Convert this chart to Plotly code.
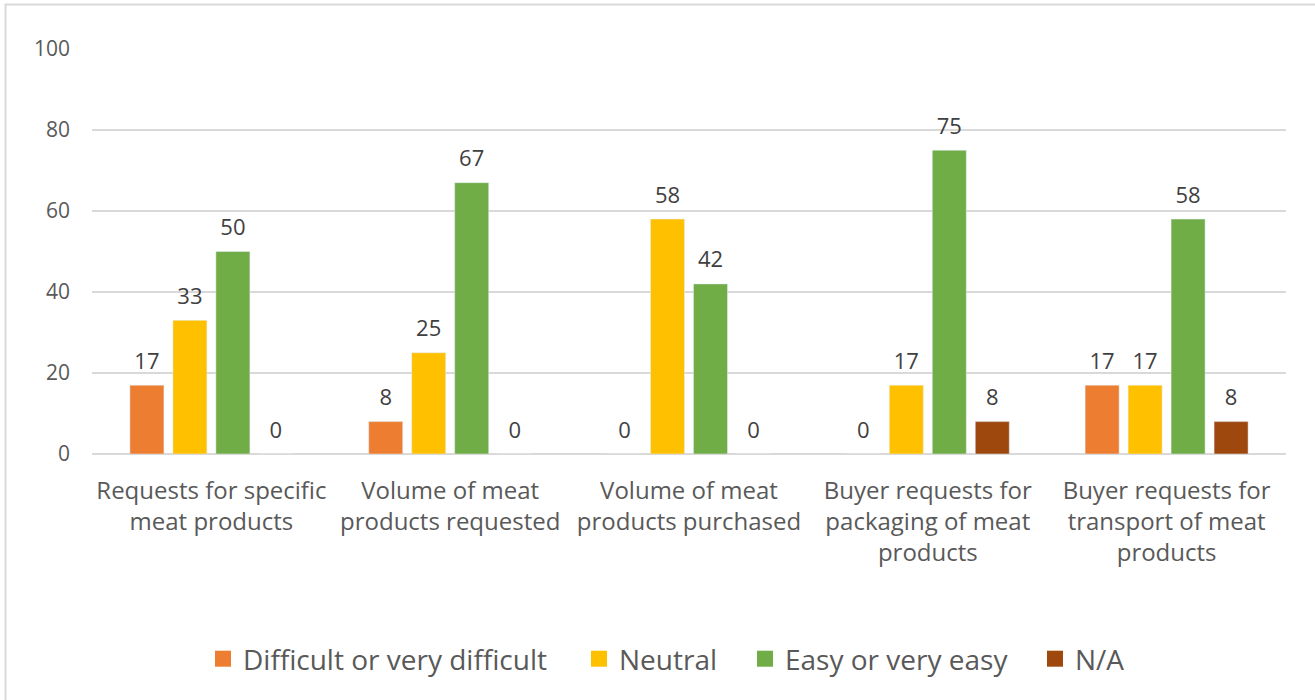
import plotly.graph_objects as go

categories = [
    "Requests for specific<br>meat products",
    "Volume of meat<br>products requested",
    "Volume of meat<br>products purchased",
    "Buyer requests for<br>packaging of meat<br>products",
    "Buyer requests for<br>transport of meat<br>products",
]
difficult = [17, 8, 0, 0, 17]
neutral = [33, 25, 58, 17, 17]
easy = [50, 67, 42, 75, 58]
na = [0, 0, 0, 8, 8]

series = [
    ("Difficult or very difficult", difficult, "#ED7D31"),
    ("Neutral", neutral, "#FFC000"),
    ("Easy or very easy", easy, "#70AD47"),
    ("N/A", na, "#9E480E"),
]

FONT = "Open Sans"
TXT = "#595959"

L, R, T, B = 92, 29, 49, 246
W, H = 1315, 700
pw = W - L - R
ph = H - T - B

def px_x(p):
    return (p - L) / pw

def px_y(p):
    return (H - B - p) / ph

legend_sq_centers = [223, 599, 765, 1055]

fig = go.Figure()
for i, (name, vals, col) in enumerate(series):
    fig.add_trace(go.Bar(
        x=categories, y=vals, name=name, marker_color=col,
        offsetgroup=str(i), showlegend=False,
    ))
for i, (name, vals, col) in enumerate(series):
    fig.add_trace(go.Scatter(
        x=categories, y=vals, mode="markers+text", offsetgroup=str(i),
        text=[str(v) for v in vals], textposition="top center",
        textfont=dict(family=FONT, size=22, color="#404040"),
        marker=dict(size=16, color="rgba(0,0,0,0)"),
        cliponaxis=False, showlegend=False, hoverinfo="skip",
    ))
for i, (name, vals, col) in enumerate(series):
    lg = "legend" if i == 0 else f"legend{i+1}"
    fig.add_trace(go.Scatter(
        x=[None], y=[None], mode="markers", name=name,
        marker=dict(symbol="square", size=18, color=col, line=dict(width=0)),
        legend=lg, showlegend=True,
    ))

legend_common = dict(
    orientation="h", xanchor="left", yanchor="middle",
    y=px_y(659), font=dict(family=FONT, size=28, color=TXT),
    itemsizing="trace", bgcolor="rgba(0,0,0,0)", borderwidth=0,
)
legends = {}
for i, c in enumerate(legend_sq_centers):
    key = "legend" if i == 0 else f"legend{i+1}"
    legends[key] = dict(legend_common, x=px_x(c - 20))

fig.update_layout(
    width=W, height=H,
    margin=dict(l=L, r=R, t=T, b=B, pad=0),
    paper_bgcolor="white", plot_bgcolor="white",
    barmode="group", bargap=0.28, bargroupgap=0.209,
    scattermode="group", scattergap=0.28,
    font=dict(family=FONT, color=TXT),
    showlegend=True,
    xaxis=dict(
        showgrid=False, showline=False, zeroline=False,
        tickfont=dict(family=FONT, size=24, color=TXT),
        ticks="", ticklabelstandoff=20,
    ),
    yaxis=dict(
        range=[0, 100], dtick=20, showgrid=True, gridcolor="#d9d9d9",
        gridwidth=2, zeroline=True, zerolinecolor="#d9d9d9", zerolinewidth=2,
        tickfont=dict(family=FONT, size=21, color=TXT),
        ticks="", ticklabelstandoff=21, showline=False,
    ),
    shapes=[dict(
        type="rect", xref="paper", yref="paper",
        x0=px_x(5.5), x1=px_x(1330), y0=px_y(720), y1=px_y(4.5),
        line=dict(color="#d9d9d9", width=2), fillcolor="rgba(0,0,0,0)",
        layer="below",
    )],
    **legends,
)

fig.write_html("out.html")
